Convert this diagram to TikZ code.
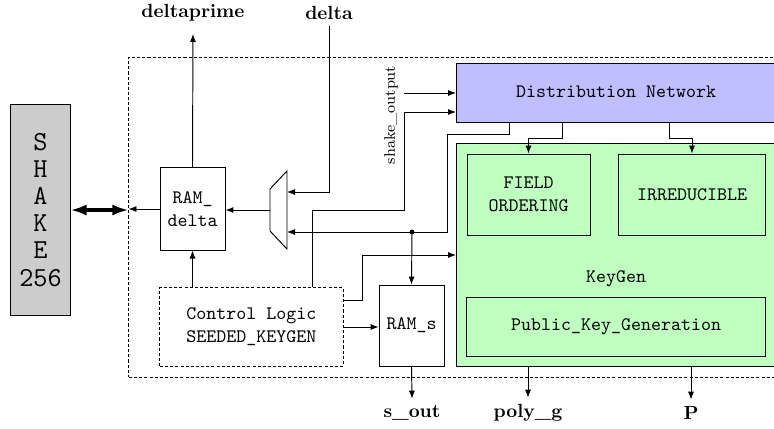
\documentclass[tikz,border=0pt]{standalone}
\usepackage{tikz}
\usetikzlibrary{arrows.meta}

\begin{document}
\begin{tikzpicture}[x=0.525pt, y=-0.525pt, line width=0.5pt]
    \tikzset{block/.style = {shape=rectangle, draw, font=\ttfamily, align=center, inner sep=0pt}}
    \tikzset{edge/.style = {-{Latex[length=4.2pt,width=3.2pt]}}}
    \tikzset{pin/.style = {font=\bfseries}}
    \tikzset{frame/.style = {dash pattern=on 1.6pt off 1.1pt}}
    \useasboundingbox (0,0) rectangle (774,428);

    % core frame
    \node[block, frame, minimum width=352.3pt, minimum height=168pt] (core) at (464.5,217) {};

    % blocks
    \node[block, fill=gray!40, minimum width=31pt, minimum height=110.3pt,
          font=\ttfamily\fontsize{14.4}{14.2}\selectfont] (shake) at (40.5,210) {S\\H\\A\\K\\E\\256};
    \node[block, minimum width=34.1pt, minimum height=43.1pt] (ramd) at (192.5,209) {RAM\_\\delta};
    \node[block, frame, minimum width=96.1pt, minimum height=41pt] (ctrl) at (251.5,327) {Control Logic\\SEEDED\_KEYGEN};
    \node[block, minimum width=34.1pt, minimum height=42.5pt] (rams) at (411.5,325.5) {RAM\_s};
    \node[block, fill=blue!25, anchor=west, minimum width=185pt, minimum height=30.5pt] (dn) at (456,93) {};
    \node[font=\ttfamily] (dnname) at (616,92) {Distribution Network};
    \node[block, fill=green!25, anchor=west, minimum width=185pt, minimum height=116.6pt] (kg) at (456,255) {};
    \node[font=\ttfamily] (kgname) at (616,279) {KeyGen};
    \node[block, minimum width=64.6pt, minimum height=42.5pt] (fld) at (528.5,194.5) {FIELD\\ORDERING};
    \node[block, minimum width=76.7pt, minimum height=42.5pt] (irr) at (692,194.5) {IRREDUCIBLE};
    \node[block, minimum width=156.5pt, minimum height=30.5pt] (pkg) at (616,327) {Public\_Key\_Generation};

    % mux in front of RAM_delta
    \coordinate (mux-out) at (270,210);
    \coordinate (mux-in1) at (287,192);
    \coordinate (mux-in2) at (287,232);
    \draw (270,189) -- (287,171) -- (287,249) -- (270,231) -- cycle;

    % ports
    \node[pin] (dprime) at (193,13) {deltaprime};
    \node[pin] (delta) at (329,13) {delta};
    \node[pin] (sout) at (412,413) {s\_out};
    \node[pin] (polyg) at (528,413) {poly\_g};
    \node[pin] (pout) at (691,413) {P};
    \node[font=\footnotesize, rotate=90] (sotext) at (391,115) {shake\_output};

    % wire bends
    \coordinate (so-in) at (404,93);
    \coordinate (ctl-up) at (312,210);
    \coordinate (ctl-turn) at (404,112);
    \coordinate (fb-a) at (509,134);
    \coordinate (fb-b) at (447,232);
    \coordinate (split) at (412,232);
    \coordinate (dn-f) at (562,138);
    \coordinate (dn-i) at (669,138);
    \coordinate (ck) at (362,300);

    % edges
    \draw[{Latex[length=8.4pt,width=5.8pt]}-{Latex[length=8.4pt,width=5.8pt]}, line width=1.8pt] (shake.east) -- (shake.east -| core.west);
    \draw[edge] (ramd.west) -- (ramd.west -| core.west);
    \draw[edge, shorten >=3pt] (ramd.north) -- (dprime.south);
    \draw[edge] (delta.south) |- (mux-in1);
    \draw[edge] (mux-out) -- (mux-out -| ramd.east);
    \draw[edge] (so-in) -- (so-in -| dn.west);
    \draw[edge] (ctrl.north -| ctl-up) -- (ctl-up) -| (ctl-turn) -- (ctl-turn -| dn.west);
    \draw[edge] (dn.south -| fb-a) -- (fb-a) -| (fb-b) -- (mux-in2);
    \fill (split) circle (2.4);
    \draw[edge] (split) -- (rams.north);
    \draw[edge] (dn.south -| dn-f) -- (dn-f) -| (fld.north);
    \draw[edge] (dn.south -| dn-i) -- (dn-i) -| (irr.north);
    \draw[edge] (ctrl.east |- ck) -- (ck) |- (kg.west);
    \draw[edge] (ctrl.east) -- (ctrl.east -| rams.west);
    \draw[edge] (ctrl.north -| ramd.south) -- (ramd.south);
    \draw[edge] (rams.south) -- (sout.north);
    \draw[edge] (kg.south -| polyg) -- (polyg.north);
    \draw[edge] (kg.south -| pout) -- (pout.north);
\end{tikzpicture}
\end{document}
